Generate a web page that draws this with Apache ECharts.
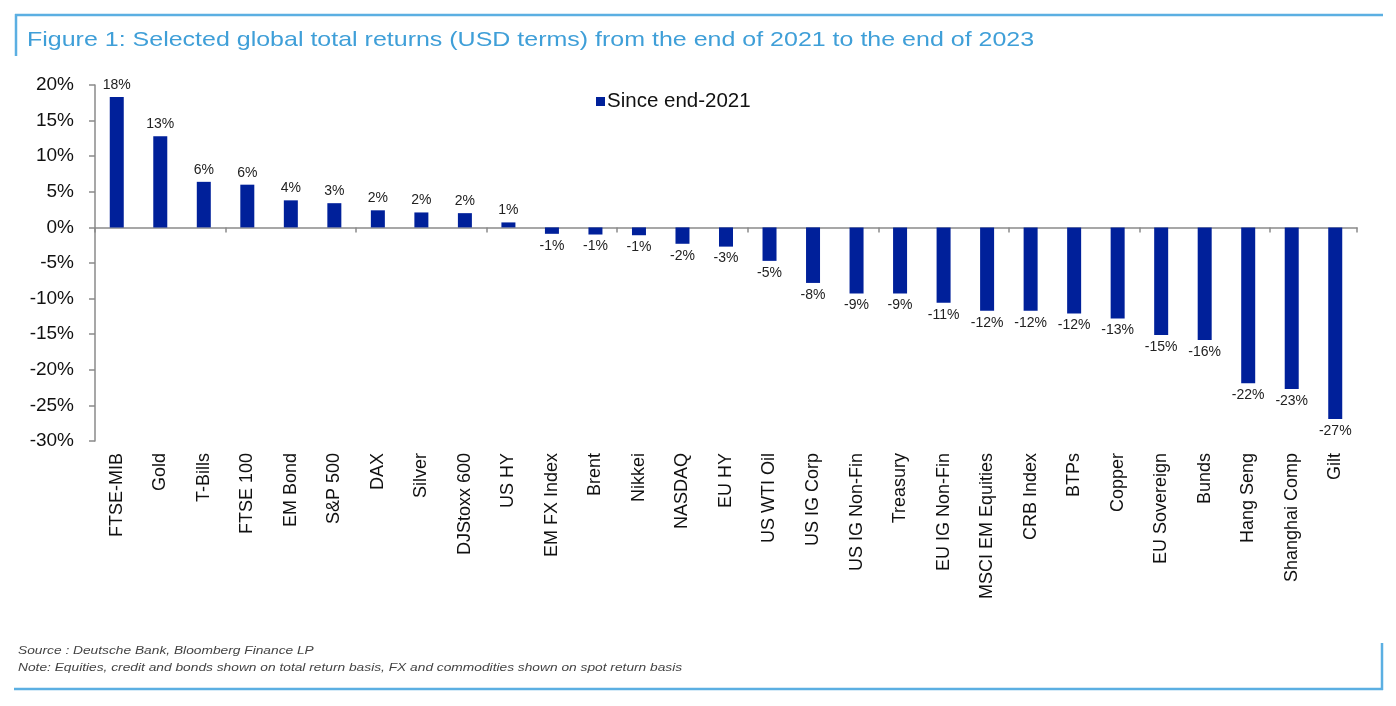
<!DOCTYPE html>
<html>
<head>
<meta charset="utf-8">
<script src="https://cdn.jsdelivr.net/npm/echarts@6/dist/echarts.min.js"></script>
<style>
html,body{margin:0;padding:0;background:#fff;}
#chart{width:1396px;height:706px;}
</style>
</head>
<body>
<div id="chart"></div>
<script>
var titleText = 'Figure 1: Selected global total returns (USD terms) from the end of 2021 to the end of 2023';
var seriesName = 'Since end-2021';
var categories = ['FTSE-MIB','Gold','T-Bills','FTSE 100','EM Bond','S&P 500','DAX','Silver','DJStoxx 600','US HY',
  'EM FX Index','Brent','Nikkei','NASDAQ','EU HY','US WTI Oil','US IG Corp','US IG Non-Fin','Treasury','EU IG Non-Fin',
  'MSCI EM Equities','CRB Index','BTPs','Copper','EU Sovereign','Bunds','Hang Seng','Shanghai Comp','Gilt'];
var returns = [18.3,12.8,6.4,6.0,3.8,3.4,2.4,2.1,2.0,0.7,
  -0.9,-1.0,-1.1,-2.3,-2.7,-4.7,-7.8,-9.3,-9.3,-10.6,
  -11.7,-11.7,-12.1,-12.8,-15.1,-15.8,-21.9,-22.7,-26.9];
var yTicks = {min:-30, max:20, interval:5};
var sourceText = 'Source : Deutsche Bank, Bloomberg Finance LP';
var noteText = 'Note: Equities, credit and bonds shown on total return basis, FX and commodities shown on spot return basis';

var barColor = '#00209A';
var frameColor = '#5BAFE2';
var font = '"Liberation Sans", Arial, sans-serif';

var seriesData = returns.map(function(v){
  return {value:v, label:{position: v < 0 ? 'bottom' : 'top'}};
});

var chart = echarts.init(document.getElementById('chart'));
chart.setOption({
  animation:false,
  backgroundColor:'#fff',
  textStyle:{fontFamily:font},
  grid:{left:95, right:39, top:85, bottom:265, containLabel:false},
  legend:{
    show:true, left:591, top:86, itemWidth:9, itemHeight:9, itemGap:5,
    icon:'rect',
    textStyle:{fontSize:20.5, color:'#111', fontFamily:font, padding:[0,0,0,-3]},
    data:[seriesName]
  },
  xAxis:[{
    type:'category', data:categories, position:'bottom',
    axisLine:{onZero:true, lineStyle:{color:'#8a8a8a', width:1.5}},
    axisTick:{show:true, inside:false, length:5, lineStyle:{color:'#8a8a8a', width:1.5}},
    axisLabel:{show:false}, splitLine:{show:false}
  },{
    type:'category', data:categories, position:'bottom',
    axisLine:{show:false, onZero:false}, axisTick:{show:false},
    axisLabel:{show:true, rotate:90, interval:0, margin:12, fontSize:18, color:'#111', fontFamily:font},
    splitLine:{show:false}
  }],
  yAxis:{
    type:'value', min:yTicks.min, max:yTicks.max, interval:yTicks.interval,
    axisLine:{show:true, lineStyle:{color:'#8a8a8a', width:1.5}},
    axisTick:{show:true, inside:false, length:6, lineStyle:{color:'#8a8a8a', width:1.5}},
    axisLabel:{fontSize:19, color:'#111', margin:21, fontFamily:font, formatter:function(v){return v+'%';}},
    splitLine:{show:false}
  },
  series:[{
    name:seriesName, type:'bar', xAxisIndex:0, barWidth:14,
    itemStyle:{color:barColor},
    label:{show:true, fontSize:14, color:'#222', distance:5, fontFamily:font,
      formatter:function(p){return Math.round(p.value)+'%';}},
    data:seriesData
  }],
  graphic:[
    {type:'line', shape:{x1:15, y1:15, x2:1383, y2:15}, style:{stroke:frameColor, lineWidth:2.5}},
    {type:'line', shape:{x1:16, y1:14, x2:16, y2:56}, style:{stroke:frameColor, lineWidth:2.5}},
    {type:'line', shape:{x1:14, y1:689, x2:1383, y2:689}, style:{stroke:frameColor, lineWidth:2.5}},
    {type:'line', shape:{x1:1382, y1:643, x2:1382, y2:690}, style:{stroke:frameColor, lineWidth:2.5}},
    {type:'text', x:27, y:30, scaleX:1.19, style:{text:titleText, fill:'#3F9FD8', font:'21px '+font}},
    {type:'text', x:18, y:645, scaleX:1.25, style:{text:sourceText, fill:'#444', font:'italic 11px '+font}},
    {type:'text', x:18, y:662, scaleX:1.25, style:{text:noteText, fill:'#444', font:'italic 11px '+font}}
  ]
});
</script>
</body>
</html>
